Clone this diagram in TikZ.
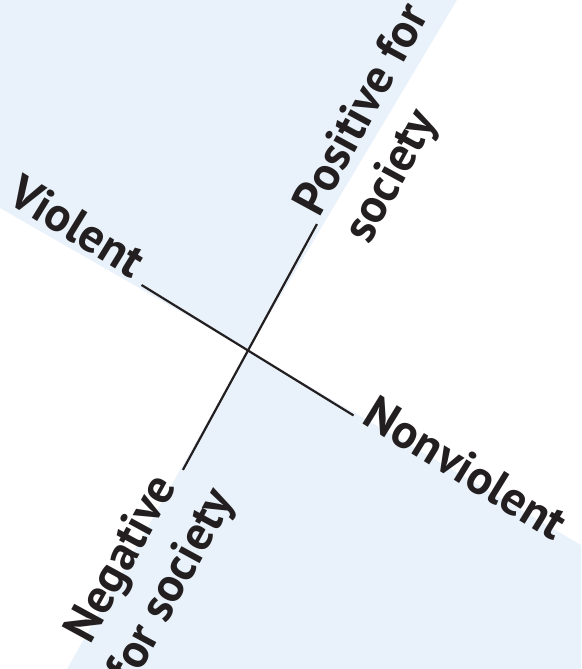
\documentclass[tikz,border=0pt]{standalone}
\usepackage{fontspec}
\setmainfont{PT Sans}
\usepackage{tikz}
\usetikzlibrary{calc}

\definecolor{paleblue}{RGB}{233,242,250}
\definecolor{ink}{RGB}{35,31,32}

\begin{document}
\begin{tikzpicture}[x=1pt,y=1pt,
	axis/.style={line width=2.2pt,ink},
	lbl/.style={font=\fontsize{48}{57}\selectfont\bfseries,text=ink,inner sep=0pt}]
\useasboundingbox (0,0) rectangle (581,669);
\coordinate (O) at (248,318.5);
% shaded quarters
\fill[paleblue] (0,669) -- (457,669) -- (O) -- (0,461) -- cycle;
\fill[paleblue] (O) -- (581,124) -- (581,0) -- (67,0) -- cycle;
\begin{scope}[shift={(O)},rotate=-31.6,transform shape]
	\coordinate (V) at (-125,0);
	\coordinate (N) at (124,0);
	\node[lbl,anchor=base east] (tV) at (-136,0) {Violent};
	\node[lbl,anchor=mid west] (tN) at (134,0) {Nonviolent};
\end{scope}
\begin{scope}[shift={(O)},rotate=61.4,transform shape]
	\coordinate (P) at (144,0);
	\coordinate (G) at (-136,0);
	% base anchor sits on the last line
	\node[lbl,anchor=base west,align=left] (tP) at (150,-56) {Positive for\\society};
	\node[lbl,anchor=mid east,align=center] (tG) at (-137,-57) {Negative\\for society};
\end{scope}
\draw[axis] (V) -- (N);
\draw[axis] (P) -- (G);
\end{tikzpicture}
\end{document}
